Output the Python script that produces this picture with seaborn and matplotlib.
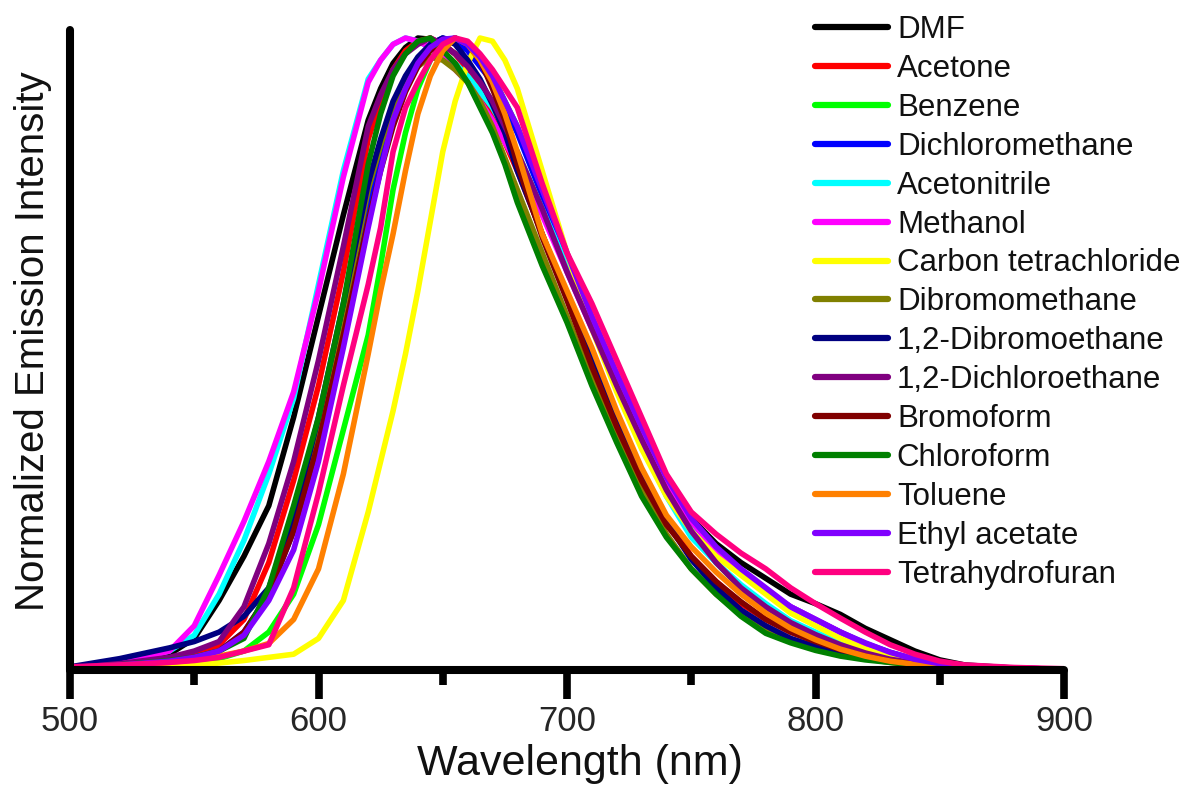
import numpy as np
import pandas as pd
import matplotlib
matplotlib.use("Agg")
import matplotlib.pyplot as plt
import seaborn as sns
from matplotlib.ticker import MultipleLocator

# ---------------- data ----------------
wavelength = [500, 520, 540, 550, 560, 570, 580, 590, 600, 610, 620, 625, 630, 635,
              640, 645, 650, 655, 660, 665, 670, 675, 680, 690, 700, 710, 720, 730,
              740, 750, 760, 770, 780, 790, 800, 810, 820, 830, 840, 850, 860, 880, 900]

dmf = [.003, .010, .025, .050, .110, .180, .260, .400, .560, .720, .870, .920, .960, .985,
       1.00, .998, .990, .975, .955, .925, .890, .850, .810, .730, .640, .550, .460, .380,
       .300, .240, .200, .170, .145, .120, .105, .088, .066, .048, .030, .016, .008, .003, .001]
acetone = [.003, .008, .015, .022, .040, .080, .170, .300, .450, .630, .840, .900, .950, .980,
           .995, 1.00, .990, .975, .950, .915, .880, .835, .790, .690, .590, .490, .400, .310,
           .240, .180, .140, .105, .080, .060, .045, .032, .022, .015, .010, .006, .004, .002, .001]
benzene = [.002, .005, .010, .013, .018, .030, .060, .120, .230, .380, .530, .640, .760, .850,
           .920, .965, .990, 1.00, .990, .970, .940, .900, .860, .760, .650, .550, .455, .370,
           .290, .220, .170, .130, .100, .075, .055, .040, .028, .018, .012, .007, .004, .002, .001]
dichloromethane = [.003, .008, .015, .020, .030, .060, .120, .220, .360, .540, .730, .810, .880, .930,
                   .965, .990, 1.00, .995, .980, .955, .930, .890, .850, .750, .650, .555, .465, .380,
                   .300, .235, .190, .155, .125, .100, .080, .060, .042, .028, .017, .010, .006, .003, .001]
acetonitrile = [.003, .012, .030, .055, .120, .205, .310, .430, .610, .790, .935, .965, .990, 1.00,
                .995, .985, .975, .960, .940, .915, .890, .855, .820, .730, .640, .545, .450, .360,
                .275, .210, .170, .135, .105, .078, .060, .042, .028, .018, .012, .008, .005, .002, .001]
methanol = [.003, .010, .030, .070, .150, .235, .330, .440, .600, .780, .930, .965, .990, 1.00,
            .995, .985, .970, .950, .930, .900, .870, .835, .800, .720, .630, .540, .460, .370,
            .300, .235, .190, .155, .125, .100, .080, .060, .040, .027, .017, .010, .006, .003, .001]
carbon_tetrachloride = [.001, .003, .006, .008, .011, .015, .020, .025, .050, .110, .250, .330, .410, .500,
                        .600, .710, .820, .900, .960, 1.00, .995, .965, .920, .790, .660, .540, .440, .350,
                        .275, .220, .180, .150, .120, .090, .070, .050, .033, .022, .014, .009, .005, .002, .001]
dibromomethane = [.003, .008, .015, .020, .030, .055, .120, .240, .380, .560, .760, .830, .890, .930,
                  .955, .970, .965, .950, .930, .900, .860, .810, .760, .660, .560, .460, .370, .285,
                  .215, .160, .120, .088, .064, .047, .035, .025, .018, .012, .008, .005, .003, .002, .001]
dibromoethane_12 = [.005, .018, .035, .045, .060, .085, .130, .240, .400, .580, .770, .840, .900, .940,
                    .970, .990, 1.00, .990, .965, .935, .895, .850, .790, .690, .590, .490, .400, .310,
                    .235, .175, .130, .095, .070, .050, .037, .027, .020, .014, .010, .006, .004, .002, .001]
dichloroethane_12 = [.003, .010, .020, .030, .045, .100, .200, .330, .490, .670, .860, .910, .950, .975,
                     .990, 1.00, .990, .975, .955, .930, .900, .860, .820, .730, .630, .540, .450, .365,
                     .285, .220, .170, .130, .100, .075, .056, .040, .027, .017, .011, .007, .004, .002, .001]
bromoform = [.003, .008, .014, .020, .030, .060, .120, .220, .360, .530, .710, .790, .860, .915,
             .955, .980, .995, 1.00, .990, .965, .920, .870, .800, .685, .585, .480, .385, .300,
             .230, .180, .140, .108, .080, .060, .045, .032, .022, .014, .009, .006, .004, .002, .001]
chloroform = [.003, .008, .015, .020, .030, .050, .130, .260, .400, .580, .800, .880, .940, .975,
              .995, 1.00, .980, .960, .930, .890, .850, .800, .740, .640, .550, .450, .360, .275,
              .210, .160, .120, .085, .058, .043, .031, .022, .016, .012, .008, .005, .003, .002, .001]
toluene = [.003, .006, .012, .016, .022, .030, .042, .080, .160, .310, .500, .600, .690, .790,
           .880, .940, .980, 1.00, .990, .965, .930, .880, .820, .690, .600, .510, .410, .320,
           .245, .195, .155, .120, .090, .066, .048, .033, .022, .014, .009, .006, .004, .002, .001]
ethyl_acetate = [.003, .008, .014, .020, .030, .055, .110, .190, .330, .510, .700, .790, .870, .920,
                 .960, .985, .998, 1.00, .990, .970, .940, .900, .860, .760, .660, .560, .470, .385,
                 .305, .240, .195, .160, .130, .100, .080, .060, .043, .028, .017, .010, .006, .003, .001]
tetrahydrofuran = [.005, .008, .012, .015, .020, .030, .040, .130, .280, .450, .610, .700, .820, .890,
                   .930, .965, .990, 1.00, .995, .975, .950, .920, .890, .770, .660, .580, .490, .400,
                   .310, .250, .215, .185, .160, .130, .105, .082, .060, .040, .025, .014, .008, .004, .002]

solvents = ["DMF", "Acetone", "Benzene", "Dichloromethane", "Acetonitrile", "Methanol",
            "Carbon tetrachloride", "Dibromomethane", "1,2-Dibromoethane", "1,2-Dichloroethane",
            "Bromoform", "Chloroform", "Toluene", "Ethyl acetate", "Tetrahydrofuran"]
series = [dmf, acetone, benzene, dichloromethane, acetonitrile, methanol, carbon_tetrachloride,
          dibromomethane, dibromoethane_12, dichloroethane_12, bromoform, chloroform, toluene,
          ethyl_acetate, tetrahydrofuran]
colors = ["#000000", "#FF0000", "#00FF00", "#0000FF", "#00FFFF", "#FF00FF", "#FFFF00",
          "#808000", "#000080", "#800080", "#800000", "#008000", "#FF8000", "#8000FF", "#FF0080"]

df = pd.concat([pd.DataFrame({"Wavelength": wavelength, "Intensity": vals, "Solvent": name})
                for name, vals in zip(solvents, series)], ignore_index=True)

# ---------------- plotting ----------------
sns.set_theme(style="white")
plt.rcParams['font.family'] = ['Liberation Sans', 'DejaVu Sans']

W, H = 1188, 787
fig = plt.figure(figsize=(W / 100, H / 100), dpi=100)
ax = fig.add_axes([70 / W, 1 - 670 / H, 994 / W, 640 / H])

sns.lineplot(data=df, x="Wavelength", y="Intensity", hue="Solvent", hue_order=solvents,
             palette=colors, linewidth=4.0, estimator=None, sort=False, ax=ax)
for ln in ax.get_lines():
    ln.set_solid_joinstyle("round")
    ln.set_solid_capstyle("round")

ax.set_xlim(500, 900)
ax.set_ylim(0, 1.0127)
ax.set_xticks([500, 600, 700, 800, 900])
ax.xaxis.set_minor_locator(MultipleLocator(50))
ax.set_yticks([])

for side in ["top", "right"]:
    ax.spines[side].set_visible(False)
for side in ["left", "bottom"]:
    ax.spines[side].set_linewidth(5.8)
    ax.spines[side].set_color("black")
    ax.spines[side].set_capstyle("round")

ax.tick_params(axis="x", which="major", direction="out", length=21, width=5.5,
               color="black", labelsize=25, pad=4, bottom=True)
ax.tick_params(axis="x", which="minor", direction="out", length=11, width=5.5,
               color="black", bottom=True)

ax.set_xlabel("Wavelength (nm)", fontsize=31, color="#111111")
ax.xaxis.set_label_coords(510 / 994, -0.115)
ax.set_ylabel("Normalized Emission Intensity", fontsize=29, color="#111111")
ax.yaxis.set_label_coords(-0.018, (670 - 341) / 640)

handles, labels = ax.get_legend_handles_labels()
leg = ax.legend(handles, labels, loc="upper left", bbox_to_anchor=(815 / W, 1 - 15 / H),
                bbox_transform=fig.transFigure, frameon=False, fontsize=22.5,
                handlelength=2.33, handletextpad=0.29, labelspacing=0.285,
                borderpad=0, borderaxespad=0)
for line in leg.get_lines():
    line.set_linewidth(4.5)
    line.set_solid_capstyle("round")
for t in leg.get_texts():
    t.set_color("#111111")

fig.savefig("out.png", dpi=100)
